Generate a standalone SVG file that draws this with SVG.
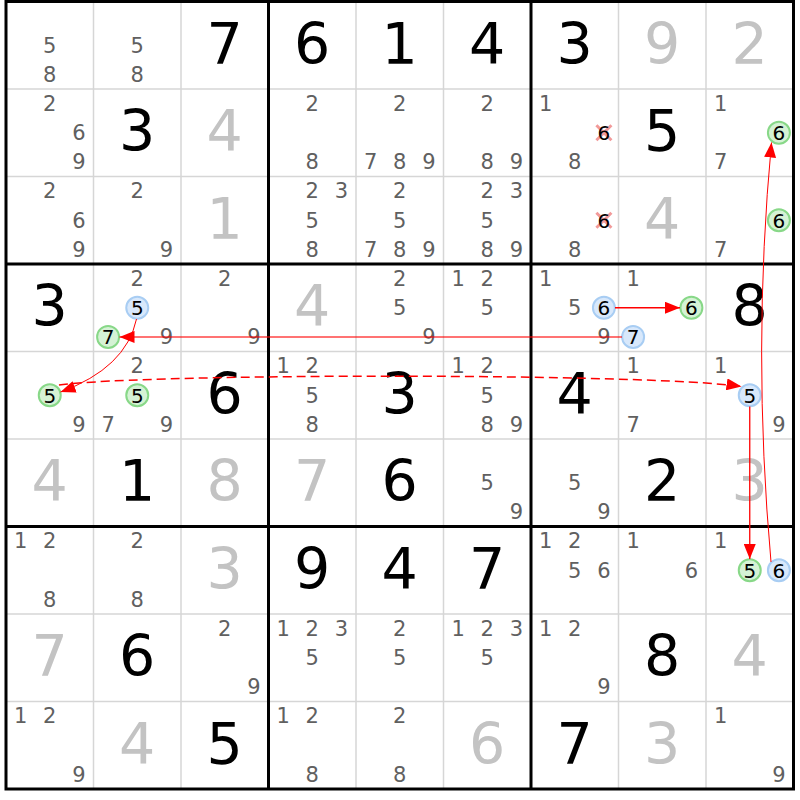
<svg xmlns="http://www.w3.org/2000/svg" width="800" height="800" viewBox="0 0 800 800">
<defs>
<style>
text{font-family:"DejaVu Sans","Liberation Sans",sans-serif;text-anchor:middle}
.c{font-size:21px;fill:#606060}
.g{font-size:57px;fill:#000}
.s{font-size:57px;fill:#c3c3c3}
.h{font-size:20px;fill:#000}
.cg{fill:#d5f2d5;stroke:#88d888;stroke-width:2}
.cb{fill:#d8e8fb;stroke:#a8cdf3;stroke-width:2}
.x{stroke:#f29a9a;stroke-width:3}
.thin{stroke:#d6d6d6;stroke-width:1.5}
.thick{stroke:#000;stroke-width:3;fill:none}
.a{fill:none;stroke:#f00}
</style>
<marker id="ah" markerUnits="userSpaceOnUse" markerWidth="16" markerHeight="12" refX="15" refY="6" orient="auto"><path d="M0,0 L15,6 L0,12 z" fill="#f00"/></marker>
</defs>
<rect x="0" y="0" width="800" height="800" fill="#fff"/>
<g id="grid">
<path class="thin" d="M93.5,1.5V789M181,1.5V789M356,1.5V789M443.5,1.5V789M618.5,1.5V789M706,1.5V789M6,89H793.5M6,176.5H793.5M6,351.5H793.5M6,439H793.5M6,614H793.5M6,701.5H793.5"/>
<path class="thick" d="M268.5,1.5V789M531,1.5V789M6,264H793.5M6,526.5H793.5"/>
<rect class="thick" x="6" y="1.5" width="787.5" height="787.5"/>
</g>
<!-- row 1 -->
<g id="r1c1" transform="translate(6,1.5)"><text class="c" x="43.75" y="51">5</text><text class="c" x="43.75" y="80.2">8</text></g>
<g id="r1c2" transform="translate(93.5,1.5)"><text class="c" x="43.75" y="51">5</text><text class="c" x="43.75" y="80.2">8</text></g>
<g id="r1c3" transform="translate(181,1.5)"><text class="g" x="43.75" y="62">7</text></g>
<g id="r1c4" transform="translate(268.5,1.5)"><text class="g" x="43.75" y="62">6</text></g>
<g id="r1c5" transform="translate(356,1.5)"><text class="g" x="43.75" y="62">1</text></g>
<g id="r1c6" transform="translate(443.5,1.5)"><text class="g" x="43.75" y="62">4</text></g>
<g id="r1c7" transform="translate(531,1.5)"><text class="g" x="43.75" y="62">3</text></g>
<g id="r1c8" transform="translate(618.5,1.5)"><text class="s" x="43.75" y="62">9</text></g>
<g id="r1c9" transform="translate(706,1.5)"><text class="s" x="43.75" y="62">2</text></g>
<!-- row 2 -->
<g id="r2c1" transform="translate(6,89)"><text class="c" x="43.75" y="21.9">2</text><text class="c" x="72.9" y="51">6</text><text class="c" x="72.9" y="80.2">9</text></g>
<g id="r2c2" transform="translate(93.5,89)"><text class="g" x="43.75" y="62">3</text></g>
<g id="r2c3" transform="translate(181,89)"><text class="s" x="43.75" y="62">4</text></g>
<g id="r2c4" transform="translate(268.5,89)"><text class="c" x="43.75" y="21.9">2</text><text class="c" x="43.75" y="80.2">8</text></g>
<g id="r2c5" transform="translate(356,89)"><text class="c" x="43.75" y="21.9">2</text><text class="c" x="14.6" y="80.2">7</text><text class="c" x="43.75" y="80.2">8</text><text class="c" x="72.9" y="80.2">9</text></g>
<g id="r2c6" transform="translate(443.5,89)"><text class="c" x="43.75" y="21.9">2</text><text class="c" x="43.75" y="80.2">8</text><text class="c" x="72.9" y="80.2">9</text></g>
<g id="r2c7" transform="translate(531,89)"><text class="c" x="14.6" y="21.9">1</text><path class="x" d="M65.4,36.2L80.4,51.2M80.4,36.2L65.4,51.2"/><text class="h" x="72.9" y="51">6</text><text class="c" x="43.75" y="80.2">8</text></g>
<g id="r2c8" transform="translate(618.5,89)"><text class="g" x="43.75" y="62">5</text></g>
<g id="r2c9" transform="translate(706,89)"><text class="c" x="14.6" y="21.9">1</text><circle class="cg" cx="72.9" cy="43.75" r="11"/><text class="h" x="72.9" y="51">6</text><text class="c" x="14.6" y="80.2">7</text></g>
<!-- row 3 -->
<g id="r3c1" transform="translate(6,176.5)"><text class="c" x="43.75" y="21.9">2</text><text class="c" x="72.9" y="51">6</text><text class="c" x="72.9" y="80.2">9</text></g>
<g id="r3c2" transform="translate(93.5,176.5)"><text class="c" x="43.75" y="21.9">2</text><text class="c" x="72.9" y="80.2">9</text></g>
<g id="r3c3" transform="translate(181,176.5)"><text class="s" x="43.75" y="62">1</text></g>
<g id="r3c4" transform="translate(268.5,176.5)"><text class="c" x="43.75" y="21.9">2</text><text class="c" x="72.9" y="21.9">3</text><text class="c" x="43.75" y="51">5</text><text class="c" x="43.75" y="80.2">8</text></g>
<g id="r3c5" transform="translate(356,176.5)"><text class="c" x="43.75" y="21.9">2</text><text class="c" x="43.75" y="51">5</text><text class="c" x="14.6" y="80.2">7</text><text class="c" x="43.75" y="80.2">8</text><text class="c" x="72.9" y="80.2">9</text></g>
<g id="r3c6" transform="translate(443.5,176.5)"><text class="c" x="43.75" y="21.9">2</text><text class="c" x="72.9" y="21.9">3</text><text class="c" x="43.75" y="51">5</text><text class="c" x="43.75" y="80.2">8</text><text class="c" x="72.9" y="80.2">9</text></g>
<g id="r3c7" transform="translate(531,176.5)"><path class="x" d="M65.4,36.2L80.4,51.2M80.4,36.2L65.4,51.2"/><text class="h" x="72.9" y="51">6</text><text class="c" x="43.75" y="80.2">8</text></g>
<g id="r3c8" transform="translate(618.5,176.5)"><text class="s" x="43.75" y="62">4</text></g>
<g id="r3c9" transform="translate(706,176.5)"><circle class="cg" cx="72.9" cy="43.75" r="11"/><text class="h" x="72.9" y="51">6</text><text class="c" x="14.6" y="80.2">7</text></g>
<!-- row 4 -->
<g id="r4c1" transform="translate(6,264)"><text class="g" x="43.75" y="62">3</text></g>
<g id="r4c2" transform="translate(93.5,264)"><text class="c" x="43.75" y="21.9">2</text><circle class="cb" cx="43.75" cy="43.75" r="11"/><text class="h" x="43.75" y="51">5</text><circle class="cg" cx="14.6" cy="72.9" r="11"/><text class="h" x="14.6" y="80.2">7</text><text class="c" x="72.9" y="80.2">9</text></g>
<g id="r4c3" transform="translate(181,264)"><text class="c" x="43.75" y="21.9">2</text><text class="c" x="72.9" y="80.2">9</text></g>
<g id="r4c4" transform="translate(268.5,264)"><text class="s" x="43.75" y="62">4</text></g>
<g id="r4c5" transform="translate(356,264)"><text class="c" x="43.75" y="21.9">2</text><text class="c" x="43.75" y="51">5</text><text class="c" x="72.9" y="80.2">9</text></g>
<g id="r4c6" transform="translate(443.5,264)"><text class="c" x="14.6" y="21.9">1</text><text class="c" x="43.75" y="21.9">2</text><text class="c" x="43.75" y="51">5</text></g>
<g id="r4c7" transform="translate(531,264)"><text class="c" x="14.6" y="21.9">1</text><text class="c" x="43.75" y="51">5</text><circle class="cb" cx="72.9" cy="43.75" r="11"/><text class="h" x="72.9" y="51">6</text><text class="c" x="72.9" y="80.2">9</text></g>
<g id="r4c8" transform="translate(618.5,264)"><text class="c" x="14.6" y="21.9">1</text><circle class="cg" cx="72.9" cy="43.75" r="11"/><text class="h" x="72.9" y="51">6</text><circle class="cb" cx="14.6" cy="72.9" r="11"/><text class="h" x="14.6" y="80.2">7</text></g>
<g id="r4c9" transform="translate(706,264)"><text class="g" x="43.75" y="62">8</text></g>
<!-- row 5 -->
<g id="r5c1" transform="translate(6,351.5)"><circle class="cg" cx="43.75" cy="43.75" r="11"/><text class="h" x="43.75" y="51">5</text><text class="c" x="72.9" y="80.2">9</text></g>
<g id="r5c2" transform="translate(93.5,351.5)"><text class="c" x="43.75" y="21.9">2</text><circle class="cg" cx="43.75" cy="43.75" r="11"/><text class="h" x="43.75" y="51">5</text><text class="c" x="14.6" y="80.2">7</text><text class="c" x="72.9" y="80.2">9</text></g>
<g id="r5c3" transform="translate(181,351.5)"><text class="g" x="43.75" y="62">6</text></g>
<g id="r5c4" transform="translate(268.5,351.5)"><text class="c" x="14.6" y="21.9">1</text><text class="c" x="43.75" y="21.9">2</text><text class="c" x="43.75" y="51">5</text><text class="c" x="43.75" y="80.2">8</text></g>
<g id="r5c5" transform="translate(356,351.5)"><text class="g" x="43.75" y="62">3</text></g>
<g id="r5c6" transform="translate(443.5,351.5)"><text class="c" x="14.6" y="21.9">1</text><text class="c" x="43.75" y="21.9">2</text><text class="c" x="43.75" y="51">5</text><text class="c" x="43.75" y="80.2">8</text><text class="c" x="72.9" y="80.2">9</text></g>
<g id="r5c7" transform="translate(531,351.5)"><text class="g" x="43.75" y="62">4</text></g>
<g id="r5c8" transform="translate(618.5,351.5)"><text class="c" x="14.6" y="21.9">1</text><text class="c" x="14.6" y="80.2">7</text></g>
<g id="r5c9" transform="translate(706,351.5)"><text class="c" x="14.6" y="21.9">1</text><circle class="cb" cx="43.75" cy="43.75" r="11"/><text class="h" x="43.75" y="51">5</text><text class="c" x="72.9" y="80.2">9</text></g>
<!-- row 6 -->
<g id="r6c1" transform="translate(6,439)"><text class="s" x="43.75" y="62">4</text></g>
<g id="r6c2" transform="translate(93.5,439)"><text class="g" x="43.75" y="62">1</text></g>
<g id="r6c3" transform="translate(181,439)"><text class="s" x="43.75" y="62">8</text></g>
<g id="r6c4" transform="translate(268.5,439)"><text class="s" x="43.75" y="62">7</text></g>
<g id="r6c5" transform="translate(356,439)"><text class="g" x="43.75" y="62">6</text></g>
<g id="r6c6" transform="translate(443.5,439)"><text class="c" x="43.75" y="51">5</text><text class="c" x="72.9" y="80.2">9</text></g>
<g id="r6c7" transform="translate(531,439)"><text class="c" x="43.75" y="51">5</text><text class="c" x="72.9" y="80.2">9</text></g>
<g id="r6c8" transform="translate(618.5,439)"><text class="g" x="43.75" y="62">2</text></g>
<g id="r6c9" transform="translate(706,439)"><text class="s" x="43.75" y="62">3</text></g>
<!-- row 7 -->
<g id="r7c1" transform="translate(6,526.5)"><text class="c" x="14.6" y="21.9">1</text><text class="c" x="43.75" y="21.9">2</text><text class="c" x="43.75" y="80.2">8</text></g>
<g id="r7c2" transform="translate(93.5,526.5)"><text class="c" x="43.75" y="21.9">2</text><text class="c" x="43.75" y="80.2">8</text></g>
<g id="r7c3" transform="translate(181,526.5)"><text class="s" x="43.75" y="62">3</text></g>
<g id="r7c4" transform="translate(268.5,526.5)"><text class="g" x="43.75" y="62">9</text></g>
<g id="r7c5" transform="translate(356,526.5)"><text class="g" x="43.75" y="62">4</text></g>
<g id="r7c6" transform="translate(443.5,526.5)"><text class="g" x="43.75" y="62">7</text></g>
<g id="r7c7" transform="translate(531,526.5)"><text class="c" x="14.6" y="21.9">1</text><text class="c" x="43.75" y="21.9">2</text><text class="c" x="43.75" y="51">5</text><text class="c" x="72.9" y="51">6</text></g>
<g id="r7c8" transform="translate(618.5,526.5)"><text class="c" x="14.6" y="21.9">1</text><text class="c" x="72.9" y="51">6</text></g>
<g id="r7c9" transform="translate(706,526.5)"><text class="c" x="14.6" y="21.9">1</text><circle class="cg" cx="43.75" cy="43.75" r="11"/><text class="h" x="43.75" y="51">5</text><circle class="cb" cx="72.9" cy="43.75" r="11"/><text class="h" x="72.9" y="51">6</text></g>
<!-- row 8 -->
<g id="r8c1" transform="translate(6,614)"><text class="s" x="43.75" y="62">7</text></g>
<g id="r8c2" transform="translate(93.5,614)"><text class="g" x="43.75" y="62">6</text></g>
<g id="r8c3" transform="translate(181,614)"><text class="c" x="43.75" y="21.9">2</text><text class="c" x="72.9" y="80.2">9</text></g>
<g id="r8c4" transform="translate(268.5,614)"><text class="c" x="14.6" y="21.9">1</text><text class="c" x="43.75" y="21.9">2</text><text class="c" x="72.9" y="21.9">3</text><text class="c" x="43.75" y="51">5</text></g>
<g id="r8c5" transform="translate(356,614)"><text class="c" x="43.75" y="21.9">2</text><text class="c" x="43.75" y="51">5</text></g>
<g id="r8c6" transform="translate(443.5,614)"><text class="c" x="14.6" y="21.9">1</text><text class="c" x="43.75" y="21.9">2</text><text class="c" x="72.9" y="21.9">3</text><text class="c" x="43.75" y="51">5</text></g>
<g id="r8c7" transform="translate(531,614)"><text class="c" x="14.6" y="21.9">1</text><text class="c" x="43.75" y="21.9">2</text><text class="c" x="72.9" y="80.2">9</text></g>
<g id="r8c8" transform="translate(618.5,614)"><text class="g" x="43.75" y="62">8</text></g>
<g id="r8c9" transform="translate(706,614)"><text class="s" x="43.75" y="62">4</text></g>
<!-- row 9 -->
<g id="r9c1" transform="translate(6,701.5)"><text class="c" x="14.6" y="21.9">1</text><text class="c" x="43.75" y="21.9">2</text><text class="c" x="72.9" y="80.2">9</text></g>
<g id="r9c2" transform="translate(93.5,701.5)"><text class="s" x="43.75" y="62">4</text></g>
<g id="r9c3" transform="translate(181,701.5)"><text class="g" x="43.75" y="62">5</text></g>
<g id="r9c4" transform="translate(268.5,701.5)"><text class="c" x="14.6" y="21.9">1</text><text class="c" x="43.75" y="21.9">2</text><text class="c" x="43.75" y="80.2">8</text></g>
<g id="r9c5" transform="translate(356,701.5)"><text class="c" x="43.75" y="21.9">2</text><text class="c" x="43.75" y="80.2">8</text></g>
<g id="r9c6" transform="translate(443.5,701.5)"><text class="s" x="43.75" y="62">6</text></g>
<g id="r9c7" transform="translate(531,701.5)"><text class="g" x="43.75" y="62">7</text></g>
<g id="r9c8" transform="translate(618.5,701.5)"><text class="s" x="43.75" y="62">3</text></g>
<g id="r9c9" transform="translate(706,701.5)"><text class="c" x="14.6" y="21.9">1</text><text class="c" x="72.9" y="80.2">9</text></g>
<g id="connectors">
<path class="a" stroke-width="1.3" d="M615,307.75L680,307.75" marker-end="url(#ah)"/>
<path class="a" stroke-width="2" stroke-opacity="0.55" d="M622,336.9L119.5,336.9" marker-end="url(#ah)"/>
<path class="a" stroke-width="1" d="M136.5,319Q126,368 60.5,392" marker-end="url(#ah)"/>
<path class="a" stroke-width="1.5" stroke-dasharray="9,5" d="M59,385C150,373 650,373 741.5,386.5" marker-end="url(#ah)"/>
<path class="a" stroke-width="1.3" d="M749.75,406.5L749.75,559" marker-end="url(#ah)"/>
<path class="a" stroke-width="1" d="M771,562Q752,350 771.5,142.5" marker-end="url(#ah)"/>
</g>
</svg>
